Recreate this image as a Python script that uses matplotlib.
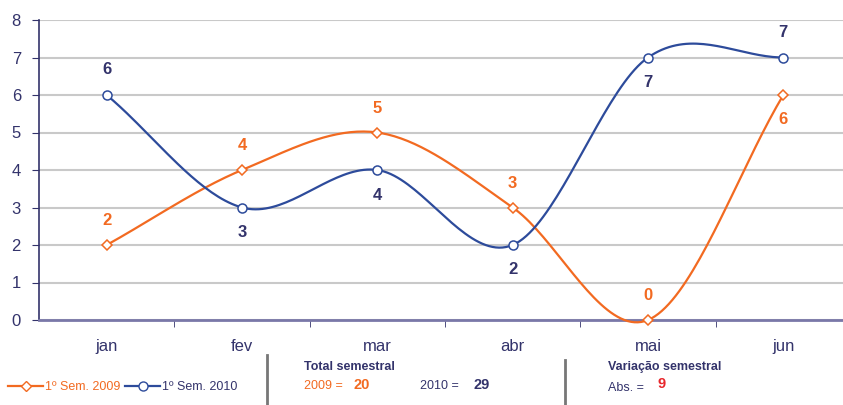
import numpy as np
import matplotlib
matplotlib.use("Agg")
import matplotlib.pyplot as plt
from matplotlib.lines import Line2D

plt.rcParams['font.family'] = ['Liberation Sans', 'DejaVu Sans']

months = ["jan", "fev", "mar", "abr", "mai", "jun"]
sem2009 = [2, 4, 5, 3, 0, 6]
sem2010 = [6, 3, 4, 2, 7, 7]
label_2009 = "1º Sem. 2009"
label_2010 = "1º Sem. 2010"
total_2009 = 20
total_2010 = 29
var_abs = 9

ORANGE = "#f26a21"
BLUE = "#2d4b9b"
NAVY = "#33336b"
GRID = "#c9c9c9"


def smooth(y, n=40):
    y = np.asarray(y, float)
    x = np.arange(len(y), dtype=float)
    p = np.concatenate([[2 * y[0] - y[1]], y, [2 * y[-1] - y[-2]]])
    xs, ys = [], []
    for i in range(len(y) - 1):
        p0, p1, p2, p3 = p[i], p[i + 1], p[i + 2], p[i + 3]
        t = np.linspace(0, 1, n, endpoint=(i == len(y) - 2))
        yy = 0.5 * ((2 * p1) + (-p0 + p2) * t + (2 * p0 - 5 * p1 + 4 * p2 - p3) * t ** 2
                    + (-p0 + 3 * p1 - 3 * p2 + p3) * t ** 3)
        xs.append(x[i] + t)
        ys.append(yy)
    return np.concatenate(xs), np.concatenate(ys)


fig = plt.figure(figsize=(8.43, 4.05), dpi=100)
ax = fig.add_axes([39 / 843, 85 / 405, 812 / 843, 300 / 405])

x = np.arange(len(months))
sx, sy = smooth(sem2009)
ax.plot(sx, sy, color=ORANGE, lw=1.6, clip_on=False, zorder=3)
ax.plot(x, sem2009, ls='none', marker='D', ms=5.5, mfc='white', mec=ORANGE, mew=1.1, clip_on=False, zorder=4)
bx, by = smooth(sem2010)
ax.plot(bx, by, color=BLUE, lw=1.6, clip_on=False, zorder=3)
ax.plot(x, sem2010, ls='none', marker='o', ms=6.5, mfc='white', mec=BLUE, mew=1.1, clip_on=False, zorder=4)

# value labels
pos2009 = [1, 1, 1, 1, 1, -1]
pos2010 = [1, -1, -1, -1, -1, 1]
for i, v in enumerate(sem2009):
    ax.annotate(str(v), (i, v), xytext=(0, 17.5 * pos2009[i]), textcoords='offset points',
                ha='center', va='center', color=ORANGE, fontsize=12, fontweight='bold')
for i, v in enumerate(sem2010):
    ax.annotate(str(v), (i, v), xytext=(0, 18 * pos2010[i]), textcoords='offset points',
                ha='center', va='center', color=NAVY, fontsize=12, fontweight='bold')

ax.set_xlim(-0.5, len(months) - 0.5)
ax.set_ylim(0, 8)
ax.set_yticks(range(0, 9))
ax.yaxis.grid(True, color=GRID, lw=1.5)
ax.set_axisbelow(True)
ax.set_xticks(x)
ax.set_xticklabels(months)
ax.set_xticks(np.arange(0.5, len(months) - 0.5, 1), minor=True)
ax.tick_params(axis='x', which='major', length=0, pad=14, labelsize=12, labelcolor=NAVY)
ax.tick_params(axis='x', which='minor', length=5, color=NAVY, direction='out')
ax.tick_params(axis='y', length=5, color=NAVY, labelsize=12, labelcolor=NAVY, pad=8)
for s in ['top', 'right']:
    ax.spines[s].set_visible(False)
ax.spines['left'].set_color(NAVY)
ax.spines['left'].set_linewidth(1.2)
ax.spines['bottom'].set_color("#7a78a8")
ax.spines['bottom'].set_linewidth(2)

# legend
handles = [Line2D([], [], color=ORANGE, lw=1.6, marker='D', ms=5.5, mfc='white', mec=ORANGE),
           Line2D([], [], color=BLUE, lw=1.6, marker='o', ms=6.5, mfc='white', mec=BLUE)]
leg = fig.legend(handles, [label_2009, label_2010], loc='center left', bbox_to_anchor=(8 / 843, 18 / 405),
                 ncol=2, frameon=False, fontsize=9, handlelength=2.8, handletextpad=0.15,
                 columnspacing=0.4, borderaxespad=0, borderpad=0)
leg.get_texts()[0].set_color(ORANGE)
leg.get_texts()[1].set_color(NAVY)

# separators
fig.add_artist(Line2D([267 / 843, 267 / 843], [0, 50 / 405], color="#777777", lw=2))
fig.add_artist(Line2D([565 / 843, 565 / 843], [0, 45 / 405], color="#777777", lw=2))

def fx(px):
    return px / 843

def fy(py):
    return 1 - py / 405

fig.text(fx(304), fy(367), "Total semestral", color=NAVY, fontsize=9, fontweight='bold', va='center')
fig.text(fx(304), fy(386), "2009 =", color=ORANGE, fontsize=9, va='center')
fig.text(fx(354), fy(385), str(total_2009), color=ORANGE, fontsize=10.5, fontweight='bold', va='center')
fig.text(fx(420), fy(386), "2010 =", color=NAVY, fontsize=9, va='center')
fig.text(fx(473), fy(385), str(total_2010), color=NAVY, fontsize=10.5, fontweight='bold', va='center')
fig.text(fx(608), fy(367), "Variação semestral", color=NAVY, fontsize=9, fontweight='bold', va='center')
fig.text(fx(608), fy(388), "Abs. =", color=NAVY, fontsize=9, va='center')
fig.text(fx(657), fy(384), str(var_abs), color="#e8262b", fontsize=10.5, fontweight='bold', va='center')

fig.savefig("out.png", dpi=100)
